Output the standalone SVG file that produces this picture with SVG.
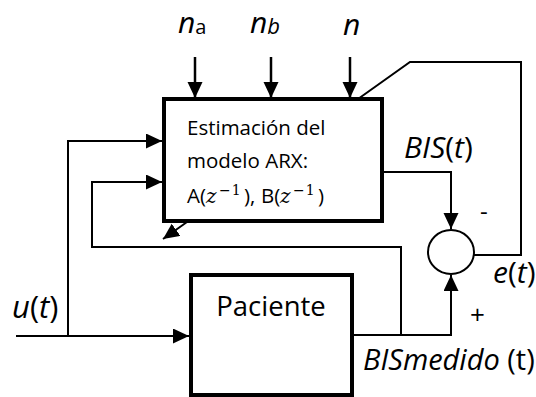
<svg xmlns="http://www.w3.org/2000/svg" width="536" height="397" viewBox="0 0 536 397">
<style>
  .box{fill:#fff;stroke:#000;stroke-width:4}
  .ln{fill:none;stroke:#000;stroke-width:2}
  .arr{marker-end:url(#ah)}
  text{font-family:"Open Sans","Noto Sans","DejaVu Sans",sans-serif;fill:#000}
  .it{font-style:italic}
  .m{font-family:"DejaVu Serif","Liberation Serif",serif}
</style>
<defs>
  <marker id="ah" markerUnits="userSpaceOnUse" markerWidth="16" markerHeight="16" refX="16" refY="7.5" orient="auto">
    <path d="M0,0 L16,7.5 L0,15 z" fill="#000"/>
  </marker>
</defs>
<g id="connectors">
  <line class="ln arr" x1="195" y1="57" x2="195" y2="98" style="stroke-width:2.5"/>
  <line class="ln arr" x1="271" y1="57" x2="271" y2="98" style="stroke-width:2.5"/>
  <line class="ln arr" x1="350" y1="57" x2="350" y2="98" style="stroke-width:2.5"/>
  <polyline class="ln" points="358,99 410,62 521,62 521,255 474,255"/>
  <polyline class="ln arr" points="16,336 189,336"/>
  <polyline class="ln arr" points="68,336 68,141 162,141"/>
  <polyline class="ln arr" points="401,335 401,247 92,247 92,182 162,182"/>
  <line class="ln arr" x1="187" y1="222" x2="163" y2="239"/>
  <polyline class="ln arr" points="382,172 451,172 451,229"/>
  <polyline class="ln arr" points="352,335 451,335 451,275"/>
</g>
<g id="estimacion">
  <rect class="box" x="164" y="99" width="218" height="122"/>
  <text x="187" y="135" font-size="20.5">Estimación del</text>
  <text x="187" y="168" font-size="20.5">modelo ARX:</text>
  <text y="203" font-size="20.5"><tspan x="187">A(</tspan><tspan x="206" class="m it" font-size="20">z</tspan><tspan x="219" y="195" class="m" font-size="14" letter-spacing="1">−1</tspan><tspan x="244" y="203">),</tspan><tspan x="261">B(</tspan><tspan x="280" class="m it" font-size="20">z</tspan><tspan x="293" y="195" class="m" font-size="14" letter-spacing="1">−1</tspan><tspan x="318" y="203">)</tspan></text>
</g>
<g id="paciente">
  <rect class="box" x="191" y="275" width="161" height="120"/>
  <text x="271" y="316" font-size="27.5" text-anchor="middle">Paciente</text>
</g>
<g id="sumador">
  <ellipse cx="451" cy="252" rx="23" ry="22" fill="#fff" stroke="#000" stroke-width="2"/>
</g>
<g id="labels">
  <text x="178" y="33" font-size="30"><tspan class="it">n</tspan><tspan font-size="20" y="34">a</tspan></text>
  <text x="250" y="33" font-size="30"><tspan class="it">n</tspan><tspan class="it" font-size="22" y="34">b</tspan></text>
  <text x="343" y="35" font-size="30" class="it">n</text>
  <text x="404" y="158" font-size="30"><tspan class="it">BIS</tspan>(<tspan class="it">t</tspan>)</text>
  <text x="480" y="220" font-size="24">-</text>
  <text x="493" y="283" font-size="30"><tspan class="it">e</tspan>(<tspan class="it">t</tspan>)</text>
  <text x="12" y="318" font-size="31"><tspan class="it">u</tspan>(<tspan class="it">t</tspan>)</text>
  <text x="470" y="324" font-size="26">+</text>
  <text x="363" y="370" font-size="29"><tspan class="it">BISmedido</tspan> (t)</text>
</g>
</svg>
